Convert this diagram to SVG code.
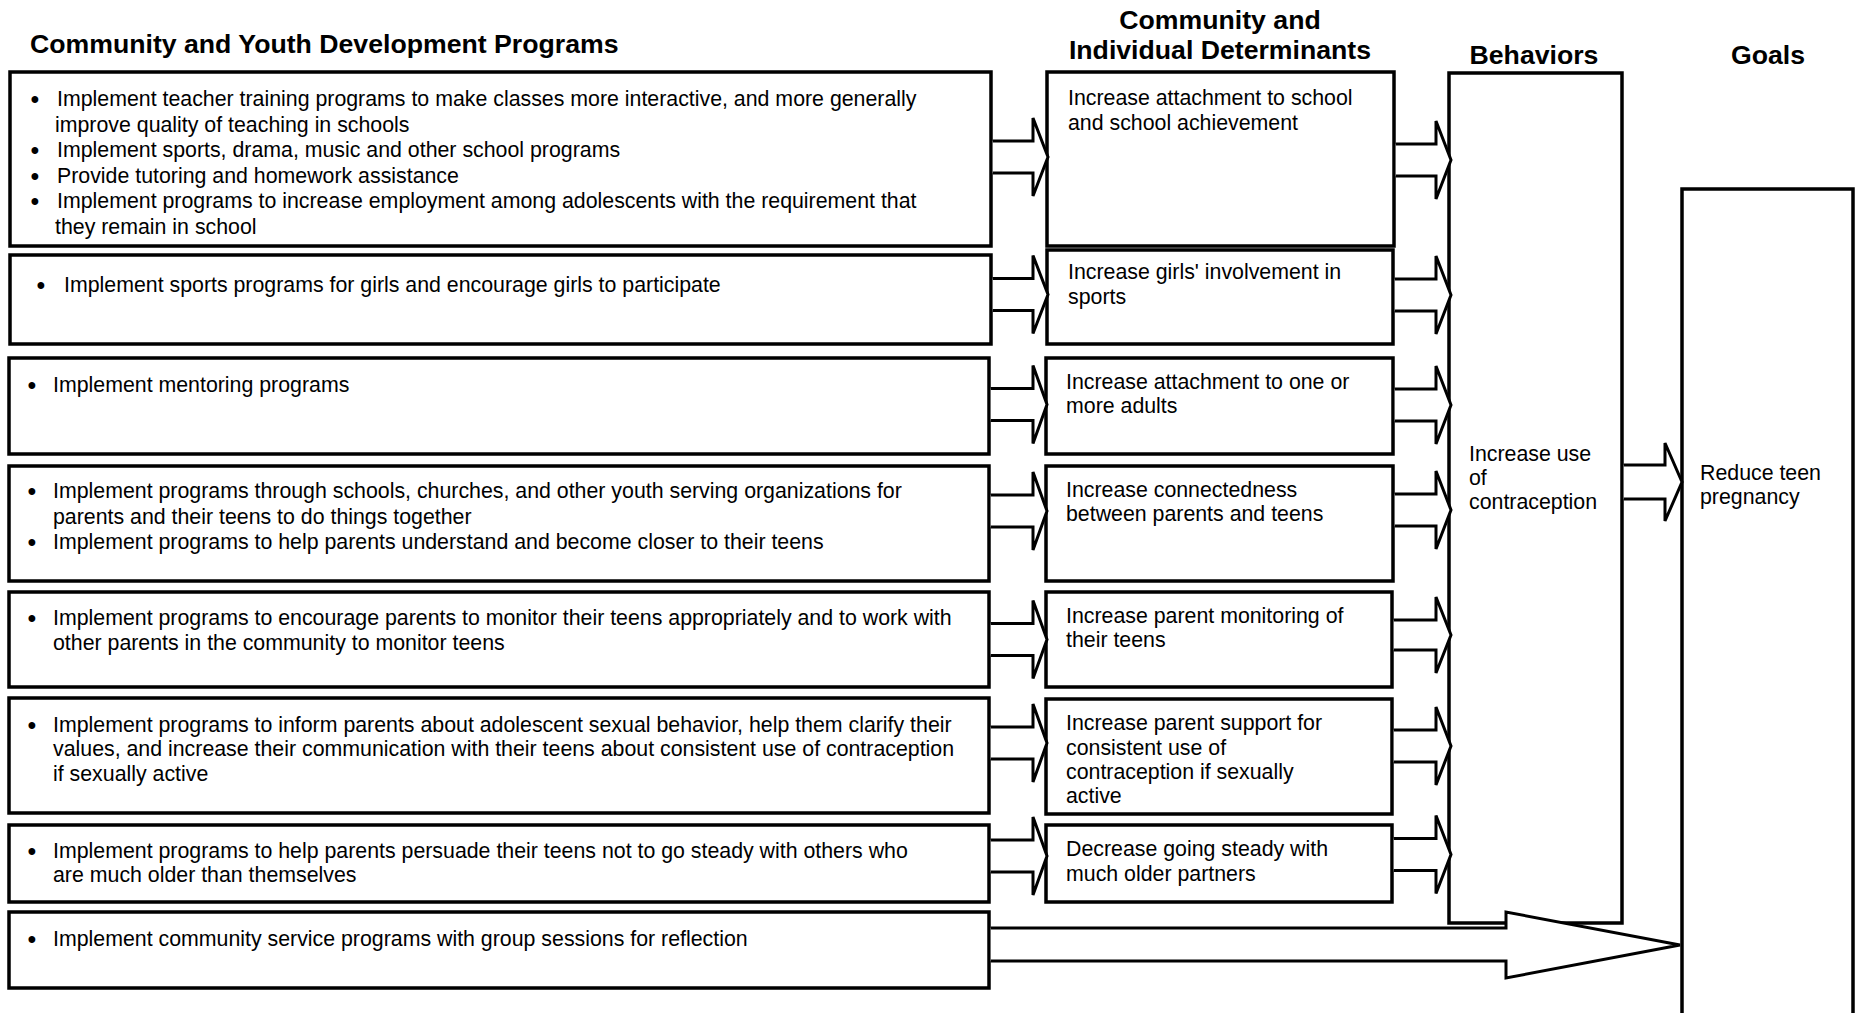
<svg xmlns="http://www.w3.org/2000/svg" width="1855" height="1013" viewBox="0 0 1855 1013">
  <style>
    .box { fill: #fff; stroke: #000; stroke-width: 3.5; }
    .arrow { fill: #fff; stroke: #000; stroke-width: 3; stroke-linejoin: miter; }
    text { font-family: "Liberation Sans", Arial, sans-serif; fill: #000; }
    .t { font-size: 21.33px; }
    .b { font-size: 25px; }
    .h { font-size: 26.67px; font-weight: bold; }
    .c { text-anchor: middle; }
  </style>

  <rect x="0" y="0" width="1855" height="1013" fill="#fff"/>

  <!-- column headings -->
  <g id="headings">
    <text class="h" x="30" y="53">Community and Youth Development Programs</text>
    <text class="h c" x="1220" y="29">Community and</text>
    <text class="h c" x="1220" y="59">Individual Determinants</text>
    <text class="h c" x="1534" y="64">Behaviors</text>
    <text class="h c" x="1768" y="64">Goals</text>
  </g>

  <!-- program boxes -->
  <g id="program-school">
    <rect class="box" x="10" y="72" width="981" height="174"/>
    <text class="b" x="30.5" y="108">•</text>
    <text class="t" x="57" y="106">Implement teacher training programs to make classes more interactive, and more generally</text>
    <text class="t" x="55" y="131.6">improve quality of teaching in schools</text>
    <text class="b" x="30.5" y="159.2">•</text>
    <text class="t" x="57" y="157.2">Implement sports, drama, music and other school programs</text>
    <text class="b" x="30.5" y="184.8">•</text>
    <text class="t" x="57" y="182.8">Provide tutoring and homework assistance</text>
    <text class="b" x="30.5" y="210.4">•</text>
    <text class="t" x="57" y="208.4">Implement programs to increase employment among adolescents with the requirement that</text>
    <text class="t" x="55" y="234">they remain in school</text>
  </g>
  <g id="program-girls-sports">
    <rect class="box" x="10" y="255" width="981" height="89"/>
    <text class="b" x="36.5" y="294">•</text>
    <text class="t" x="64" y="292">Implement sports programs for girls and encourage girls to participate</text>
  </g>
  <g id="program-mentoring">
    <rect class="box" x="9" y="358" width="980" height="96"/>
    <text class="b" x="27.5" y="394">•</text>
    <text class="t" x="53" y="392">Implement mentoring programs</text>
  </g>
  <g id="program-parents-teens">
    <rect class="box" x="9" y="466" width="980" height="115"/>
    <text class="b" x="27.5" y="500">•</text>
    <text class="t" x="53" y="498">Implement programs through schools, churches, and other youth serving organizations for</text>
    <text class="t" x="53" y="523.5">parents and their teens to do things together</text>
    <text class="b" x="27.5" y="551">•</text>
    <text class="t" x="53" y="549">Implement programs to help parents understand and become closer to their teens</text>
  </g>
  <g id="program-monitoring">
    <rect class="box" x="9" y="592" width="980" height="95"/>
    <text class="b" x="27.5" y="627">•</text>
    <text class="t" x="53" y="625">Implement programs to encourage parents to monitor their teens appropriately and to work with</text>
    <text class="t" x="53" y="649.5">other parents in the community to monitor teens</text>
  </g>
  <g id="program-inform-parents">
    <rect class="box" x="9" y="698" width="980" height="115"/>
    <text class="b" x="27.5" y="734">•</text>
    <text class="t" x="53" y="732">Implement programs to inform parents about adolescent sexual behavior, help them clarify their</text>
    <text class="t" x="53" y="756">values, and increase their communication with their teens about consistent use of contraception</text>
    <text class="t" x="53" y="780.5">if sexually active</text>
  </g>
  <g id="program-going-steady">
    <rect class="box" x="9" y="825" width="980" height="77"/>
    <text class="b" x="27.5" y="860">•</text>
    <text class="t" x="53" y="858">Implement programs to help parents persuade their teens not to go steady with others who</text>
    <text class="t" x="53" y="882">are much older than themselves</text>
  </g>
  <g id="program-community-service">
    <rect class="box" x="9" y="912" width="980" height="76"/>
    <text class="b" x="27.5" y="948">•</text>
    <text class="t" x="53" y="946">Implement community service programs with group sessions for reflection</text>
  </g>

  <!-- determinant boxes -->
  <g id="det-school">
    <rect class="box" x="1047" y="72" width="347" height="174"/>
    <text class="t" x="1068" y="105">Increase attachment to school</text>
    <text class="t" x="1068" y="129.5">and school achievement</text>
  </g>
  <g id="det-girls-sports">
    <rect class="box" x="1047" y="250" width="346" height="94"/>
    <text class="t" x="1068" y="279">Increase girls' involvement in</text>
    <text class="t" x="1068" y="303.5">sports</text>
  </g>
  <g id="det-adults">
    <rect class="box" x="1046" y="358" width="347" height="96"/>
    <text class="t" x="1066" y="389">Increase attachment to one or</text>
    <text class="t" x="1066" y="413">more adults</text>
  </g>
  <g id="det-connectedness">
    <rect class="box" x="1046" y="466" width="347" height="115"/>
    <text class="t" x="1066" y="497">Increase connectedness</text>
    <text class="t" x="1066" y="521">between parents and teens</text>
  </g>
  <g id="det-monitoring">
    <rect class="box" x="1046" y="592" width="346" height="95"/>
    <text class="t" x="1066" y="623">Increase parent monitoring of</text>
    <text class="t" x="1066" y="647">their teens</text>
  </g>
  <g id="det-support">
    <rect class="box" x="1046" y="699" width="346" height="115"/>
    <text class="t" x="1066" y="730">Increase parent support for</text>
    <text class="t" x="1066" y="754.5">consistent use of</text>
    <text class="t" x="1066" y="779">contraception if sexually</text>
    <text class="t" x="1066" y="803">active</text>
  </g>
  <g id="det-older-partners">
    <rect class="box" x="1046" y="825" width="346" height="77"/>
    <text class="t" x="1066" y="856">Decrease going steady with</text>
    <text class="t" x="1066" y="880.5">much older partners</text>
  </g>

  <!-- behaviour and goal boxes -->
  <g id="behavior">
    <rect class="box" x="1449" y="73" width="173" height="850"/>
    <text class="t" x="1469" y="460.5">Increase use</text>
    <text class="t" x="1469" y="484.5">of</text>
    <text class="t" x="1469" y="509">contraception</text>
  </g>
  <g id="goal">
    <rect class="box" x="1682" y="189" width="171" height="850"/>
    <text class="t" x="1700" y="480">Reduce teen</text>
    <text class="t" x="1700" y="504">pregnancy</text>
  </g>

  <!-- block arrows, drawn over the box edges -->
  <g id="connectors">
    <!-- programs to determinants -->
    <path class="arrow" d="M992.75,141 H1033 V118 L1048,157 L1033,196 V173 H992.75"/>
    <path class="arrow" d="M992.75,278.5 H1033 V255.5 L1048,294.5 L1033,333.5 V310.5 H992.75"/>
    <path class="arrow" d="M990.75,388.5 H1033 V365.5 L1047,404.5 L1033,443.5 V420.5 H990.75"/>
    <path class="arrow" d="M990.75,495 H1033 V472 L1047,511 L1033,550 V527 H990.75"/>
    <path class="arrow" d="M990.75,623.5 H1033 V600.5 L1047,639.5 L1033,678.5 V655.5 H990.75"/>
    <path class="arrow" d="M990.75,727 H1033 V704 L1047,743 L1033,782 V759 H990.75"/>
    <path class="arrow" d="M990.75,840 H1033 V817 L1047,856 L1033,895 V872 H990.75"/>
    <!-- determinants to behaviour -->
    <path class="arrow" d="M1395.75,144 H1436 V121 L1451,160 L1436,199 V176 H1395.75"/>
    <path class="arrow" d="M1394.75,279 H1436 V256 L1451,295 L1436,334 V311 H1394.75"/>
    <path class="arrow" d="M1394.75,389 H1436 V366 L1451,405 L1436,444 V421 H1394.75"/>
    <path class="arrow" d="M1394.75,494 H1436 V471 L1451,510 L1436,549 V526 H1394.75"/>
    <path class="arrow" d="M1393.75,620 H1436 V597 L1451,635 L1436,673 V650 H1393.75"/>
    <path class="arrow" d="M1393.75,730 H1436 V707 L1451,746 L1436,785 V762 H1393.75"/>
    <path class="arrow" d="M1393.75,838.5 H1436 V815.5 L1451,854.5 L1436,893.5 V870.5 H1393.75"/>
    <!-- behaviour to goal -->
    <path class="arrow" d="M1623.75,465 H1665 V443 L1682,482 L1665,521 V499 H1623.75"/>
    <!-- community service straight to goal -->
    <path class="arrow" d="M990.75,928 H1506 V912 L1680,945 L1506,978 V961 H990.75"/>
  </g>
</svg>
